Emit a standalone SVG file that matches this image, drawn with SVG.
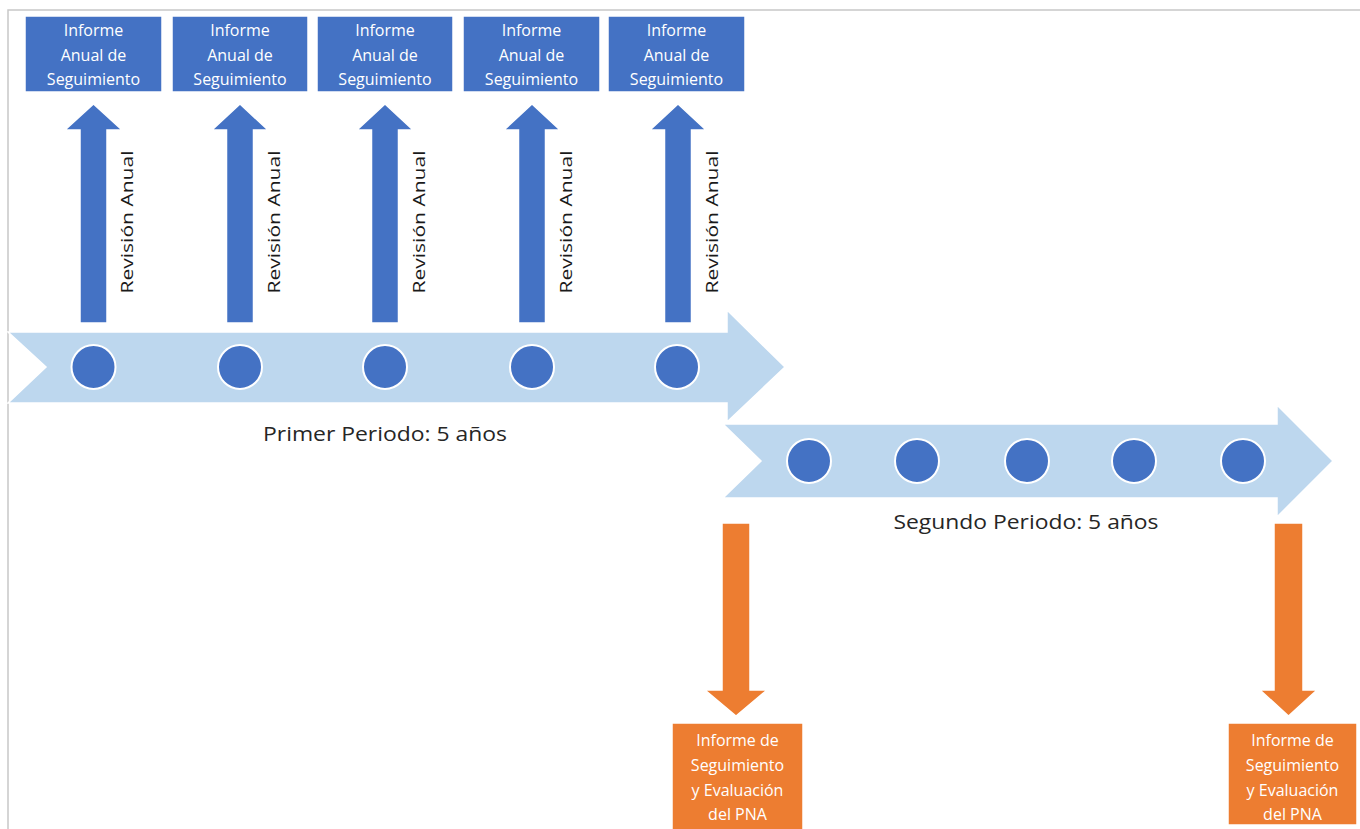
<svg xmlns="http://www.w3.org/2000/svg" width="1360" height="829" viewBox="0 0 1360 829">
<style>
.frame{fill:none;stroke:#c8c8c8;stroke-width:1.5}
.bbox{fill:#4472C4;stroke:#ffffff;stroke-width:1.5}
.obox{fill:#ED7D31;stroke:#ffffff;stroke-width:1.5}
.barr{fill:#4472C4;stroke:#ffffff;stroke-width:1.5}
.oarr{fill:#ED7D31;stroke:#ffffff;stroke-width:1.5}
.tl{fill:#BDD7EE;stroke:#ffffff;stroke-width:1.5}
.dot{fill:#4472C4;stroke:#ffffff;stroke-width:2}
.bt{font-family:"Open Sans","Noto Sans",sans-serif;font-size:16px;fill:#ffffff;text-anchor:middle}
.rv{font-family:"Open Sans","Noto Sans",sans-serif;font-size:16px;fill:#1a1a1a;text-anchor:middle}
.pl{font-family:"Open Sans","Noto Sans",sans-serif;font-size:20px;fill:#262626;text-anchor:middle}
</style>
<rect width="1360" height="829" fill="#ffffff"/>
<path class="frame" d="M8,829 V10 H1360"/>

<g id="timeline1">
<polygon class="tl" points="8,332 727,332 727,310 785,367 727,422 727,403 8,403 46,367"/>
<circle class="dot" cx="93.5" cy="367" r="22"/>
<circle class="dot" cx="240" cy="367" r="22"/>
<circle class="dot" cx="385" cy="367" r="22"/>
<circle class="dot" cx="532" cy="367" r="22"/>
<circle class="dot" cx="677" cy="367" r="22"/>
<text class="pl" x="385" y="441" textLength="244" lengthAdjust="spacingAndGlyphs">Primer Periodo: 5 años</text>
</g>

<g id="timeline2">
<polygon class="tl" points="723,424 1277,424 1277,405 1333,461 1277,517 1277,498 723,498 761,461"/>
<circle class="dot" cx="809" cy="461" r="22"/>
<circle class="dot" cx="917" cy="461" r="22"/>
<circle class="dot" cx="1027" cy="461" r="22"/>
<circle class="dot" cx="1134" cy="461" r="22"/>
<circle class="dot" cx="1243" cy="461" r="22"/>
<text class="pl" x="1026" y="529" textLength="265" lengthAdjust="spacingAndGlyphs">Segundo Periodo: 5 años</text>
</g>

<g id="connectors">
<polygon class="barr" points="80,323 80,130 65,130 93.5,104 122,130 107,130 107,323"/>
<polygon class="barr" points="226.5,323 226.5,130 212,130 240,104 268,130 253.5,130 253.5,323"/>
<polygon class="barr" points="371.5,323 371.5,130 357,130 385,104 413,130 398.5,130 398.5,323"/>
<polygon class="barr" points="518.5,323 518.5,130 504,130 532,104 560,130 545.5,130 545.5,323"/>
<polygon class="barr" points="664.5,323 664.5,130 650,130 678,104 706,130 691.5,130 691.5,323"/>
<text class="rv" transform="translate(133,222) rotate(-90)" textLength="143" lengthAdjust="spacingAndGlyphs">Revisión Anual</text>
<text class="rv" transform="translate(280,222) rotate(-90)" textLength="143" lengthAdjust="spacingAndGlyphs">Revisión Anual</text>
<text class="rv" transform="translate(425,222) rotate(-90)" textLength="143" lengthAdjust="spacingAndGlyphs">Revisión Anual</text>
<text class="rv" transform="translate(572,222) rotate(-90)" textLength="143" lengthAdjust="spacingAndGlyphs">Revisión Anual</text>
<text class="rv" transform="translate(718,222) rotate(-90)" textLength="143" lengthAdjust="spacingAndGlyphs">Revisión Anual</text>
<polygon class="oarr" points="722,523 750,523 750,690 767,690 736,716 705,690 722,690"/>
<polygon class="oarr" points="1274,523 1303,523 1303,690 1317,690 1288.5,716 1260,690 1274,690"/>
</g>

<g id="informe1">
<rect class="bbox" x="25" y="16" width="137" height="76"/>
<text class="bt" x="93.5" y="36">Informe</text><text class="bt" x="93.5" y="61">Anual de</text><text class="bt" x="93.5" y="85">Seguimiento</text>
</g>
<g id="informe2">
<rect class="bbox" x="172" y="16" width="136" height="76"/>
<text class="bt" x="240" y="36">Informe</text><text class="bt" x="240" y="61">Anual de</text><text class="bt" x="240" y="85">Seguimiento</text>
</g>
<g id="informe3">
<rect class="bbox" x="317" y="16" width="136" height="76"/>
<text class="bt" x="385" y="36">Informe</text><text class="bt" x="385" y="61">Anual de</text><text class="bt" x="385" y="85">Seguimiento</text>
</g>
<g id="informe4">
<rect class="bbox" x="463" y="16" width="137" height="76"/>
<text class="bt" x="531.5" y="36">Informe</text><text class="bt" x="531.5" y="61">Anual de</text><text class="bt" x="531.5" y="85">Seguimiento</text>
</g>
<g id="informe5">
<rect class="bbox" x="608" y="16" width="137" height="76"/>
<text class="bt" x="676.5" y="36">Informe</text><text class="bt" x="676.5" y="61">Anual de</text><text class="bt" x="676.5" y="85">Seguimiento</text>
</g>

<g id="evaluacion1">
<rect class="obox" x="672" y="723" width="131" height="110"/>
<text class="bt" x="737.5" y="746">Informe de</text><text class="bt" x="737.5" y="771">Seguimiento</text><text class="bt" x="737.5" y="796">y Evaluación</text><text class="bt" x="737.5" y="820">del PNA</text>
</g>
<g id="evaluacion2">
<rect class="obox" x="1228" y="723" width="129" height="102"/>
<text class="bt" x="1292.5" y="746">Informe de</text><text class="bt" x="1292.5" y="771">Seguimiento</text><text class="bt" x="1292.5" y="796">y Evaluación</text><text class="bt" x="1292.5" y="820">del PNA</text>
</g>
</svg>
